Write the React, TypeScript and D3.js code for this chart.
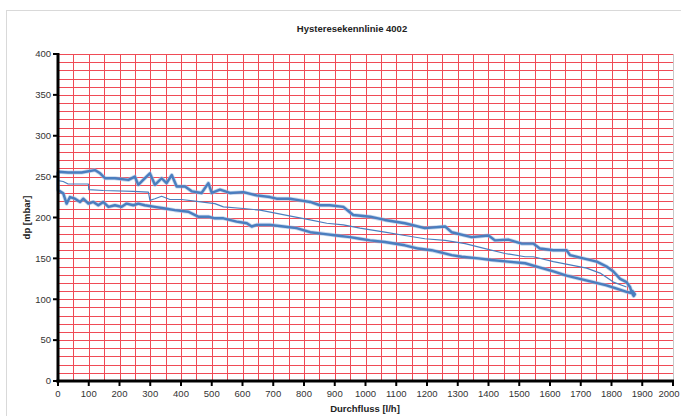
import React from "react";
import * as d3 from "d3";

const title = "Hysteresekennlinie 4002";
const xTitle = "Durchfluss [l/h]";
const yTitle = "dp [mbar]";

const xTicks = d3.range(0, 2001, 100);
const yTicks = d3.range(0, 401, 50);

const upperX = [0, 33, 77, 120, 137, 153, 185, 229, 250, 261, 277, 299, 315, 337, 353, 370, 386, 413, 435, 467, 489, 500, 527, 559, 603, 646, 689, 711, 754, 787, 820, 852, 884, 928, 960, 1015, 1063, 1128, 1193, 1259, 1280, 1345, 1400, 1421, 1464, 1508, 1546, 1567, 1611, 1654, 1665, 1708, 1752, 1784, 1806, 1828, 1849, 1860, 1866, 1872, 1876, 1868];
const upperY = [256, 255, 255, 258, 254, 248, 248, 246, 250, 240, 246, 254, 240, 248, 242, 252, 238, 238, 232, 230, 242, 230, 234, 230, 231, 227, 225, 223, 223, 221, 219, 215, 215, 213, 203, 201, 197, 193, 187, 189, 182, 176, 178, 172, 173, 168, 168, 162, 160, 160, 154, 150, 146, 140, 134, 125, 121, 115, 108, 104, 106, 110];

const lowerX = [0, 17, 28, 39, 55, 72, 82, 99, 115, 131, 147, 164, 185, 207, 223, 245, 261, 282, 315, 348, 380, 424, 456, 489, 510, 538, 581, 614, 630, 646, 689, 733, 776, 820, 863, 906, 950, 982, 1015, 1063, 1128, 1171, 1215, 1280, 1313, 1367, 1410, 1464, 1519, 1557, 1611, 1654, 1697, 1741, 1784, 1817, 1849, 1871];
const lowerY = [233.5, 229.5, 217, 225, 223, 219, 223, 217, 219, 215, 219, 213, 215, 213, 217, 215, 217, 215, 213, 211, 209, 207, 201, 201, 199, 199, 195, 193, 189, 191, 191, 189, 187, 182, 180, 178, 176, 174, 172, 170, 166, 162, 160, 154, 152, 150, 148, 146, 144, 140, 134, 129, 125, 121, 117, 113, 109, 107];

const midX = [0, 17, 33, 99, 100, 147, 245, 294, 299, 315, 337, 364, 402, 445, 510, 538, 603, 657, 711, 765, 820, 874, 928, 982, 1063, 1128, 1193, 1259, 1324, 1389, 1454, 1519, 1546, 1611, 1665, 1719, 1763, 1806, 1849];
const midY = [245, 244, 241, 241, 234, 233, 232, 231, 221, 223, 226, 222, 222, 220, 217, 213, 211, 209, 205, 201, 197, 193, 191, 187, 182, 178, 174, 172, 168, 162, 156, 152, 152, 146, 142, 138, 132, 121, 115];

const W = 681, H = 416;
const L = 58, R = 673, T = 54, B = 381;

export default function App() {
  const x = d3.scaleLinear().domain([0, 2000]).range([L, R]);
  const y = d3.scaleLinear().domain([0, 400]).range([B, T]);
  const line = d3.line<[number, number]>().x(d => x(d[0])).y(d => y(d[1]));

  const upper: [number, number][] = upperX.map((v, i) => [v, upperY[i]]);
  const lower: [number, number][] = lowerX.map((v, i) => [v, lowerY[i]]);
  const loop = [...upper, ...lower.slice().reverse(), upper[0]];
  const mid: [number, number][] = midX.map((v, i) => [v, midY[i]]);

  const vGrid = d3.range(50, 2000, 50);
  const hGrid = d3.range(10, 401, 10);
  const font = "'Liberation Sans', Arial, sans-serif";
  const blue = "#4a7ebf";

  return (
    <svg width={W} height={H} style={{ position: "absolute", left: 0, top: 0, background: "#fff" }}>
      <rect x={6.5} y={10.5} width={700} height={420} fill="#fff" stroke="#d9d9d9" />
      <text x={352} y={32} textAnchor="middle" fontFamily={font} fontWeight="bold" fontSize={9.5} fill="#222">{title}</text>
      {hGrid.map(v => (
        <line key={"h" + v} x1={L} x2={R} y1={Math.round(y(v)) + 0.5} y2={Math.round(y(v)) + 0.5} stroke="#ef4b56" strokeWidth={1} />
      ))}
      {vGrid.map(v => (
        <line key={"v" + v} x1={Math.round(x(v)) + 0.5} x2={Math.round(x(v)) + 0.5} y1={T} y2={B} stroke="#ef4b56" strokeWidth={1} />
      ))}
      <line x1={R + 0.5} x2={R + 0.5} y1={T} y2={B} stroke="#c8c8c8" strokeWidth={1} />
      <path d={line(loop) || ""} fill="none" stroke="#9fbbe0" strokeWidth={4} strokeLinejoin="round" opacity={0.6} />
      <path d={line(loop) || ""} fill="none" stroke={blue} strokeWidth={2.4} strokeLinejoin="round" />
      <path d={line(mid) || ""} fill="none" stroke={blue} strokeWidth={1.2} strokeLinejoin="round" />
      <line x1={L} x2={L} y1={T - 1} y2={B + 1.5} stroke="#000" strokeWidth={3} />
      <line x1={L - 1.5} x2={R + 1} y1={B} y2={B} stroke="#000" strokeWidth={3} />
      {yTicks.map(v => (
        <g key={"yt" + v}>
          <line x1={L - 5} x2={L} y1={y(v)} y2={y(v)} stroke="#000" strokeWidth={2} />
          <text x={L - 7} y={y(v)} dy="0.35em" textAnchor="end" fontFamily={font} fontSize={9.5} fill="#333">{v}</text>
        </g>
      ))}
      {xTicks.map(v => (
        <g key={"xt" + v}>
          <line x1={x(v)} x2={x(v)} y1={B} y2={B + 5} stroke="#000" strokeWidth={2} />
          <text x={Math.min(x(v), W - 12)} y={397} textAnchor="middle" fontFamily={font} fontSize={9.5} fill="#333">{v}</text>
        </g>
      ))}
      <text x={365} y={412} textAnchor="middle" fontFamily={font} fontWeight="bold" fontSize={9.5} fill="#222">{xTitle}</text>
      <text transform={`translate(30,${(T + B) / 2}) rotate(-90)`} textAnchor="middle" fontFamily={font} fontWeight="bold" fontSize={9.5} fill="#222">{yTitle}</text>
    </svg>
  );
}
